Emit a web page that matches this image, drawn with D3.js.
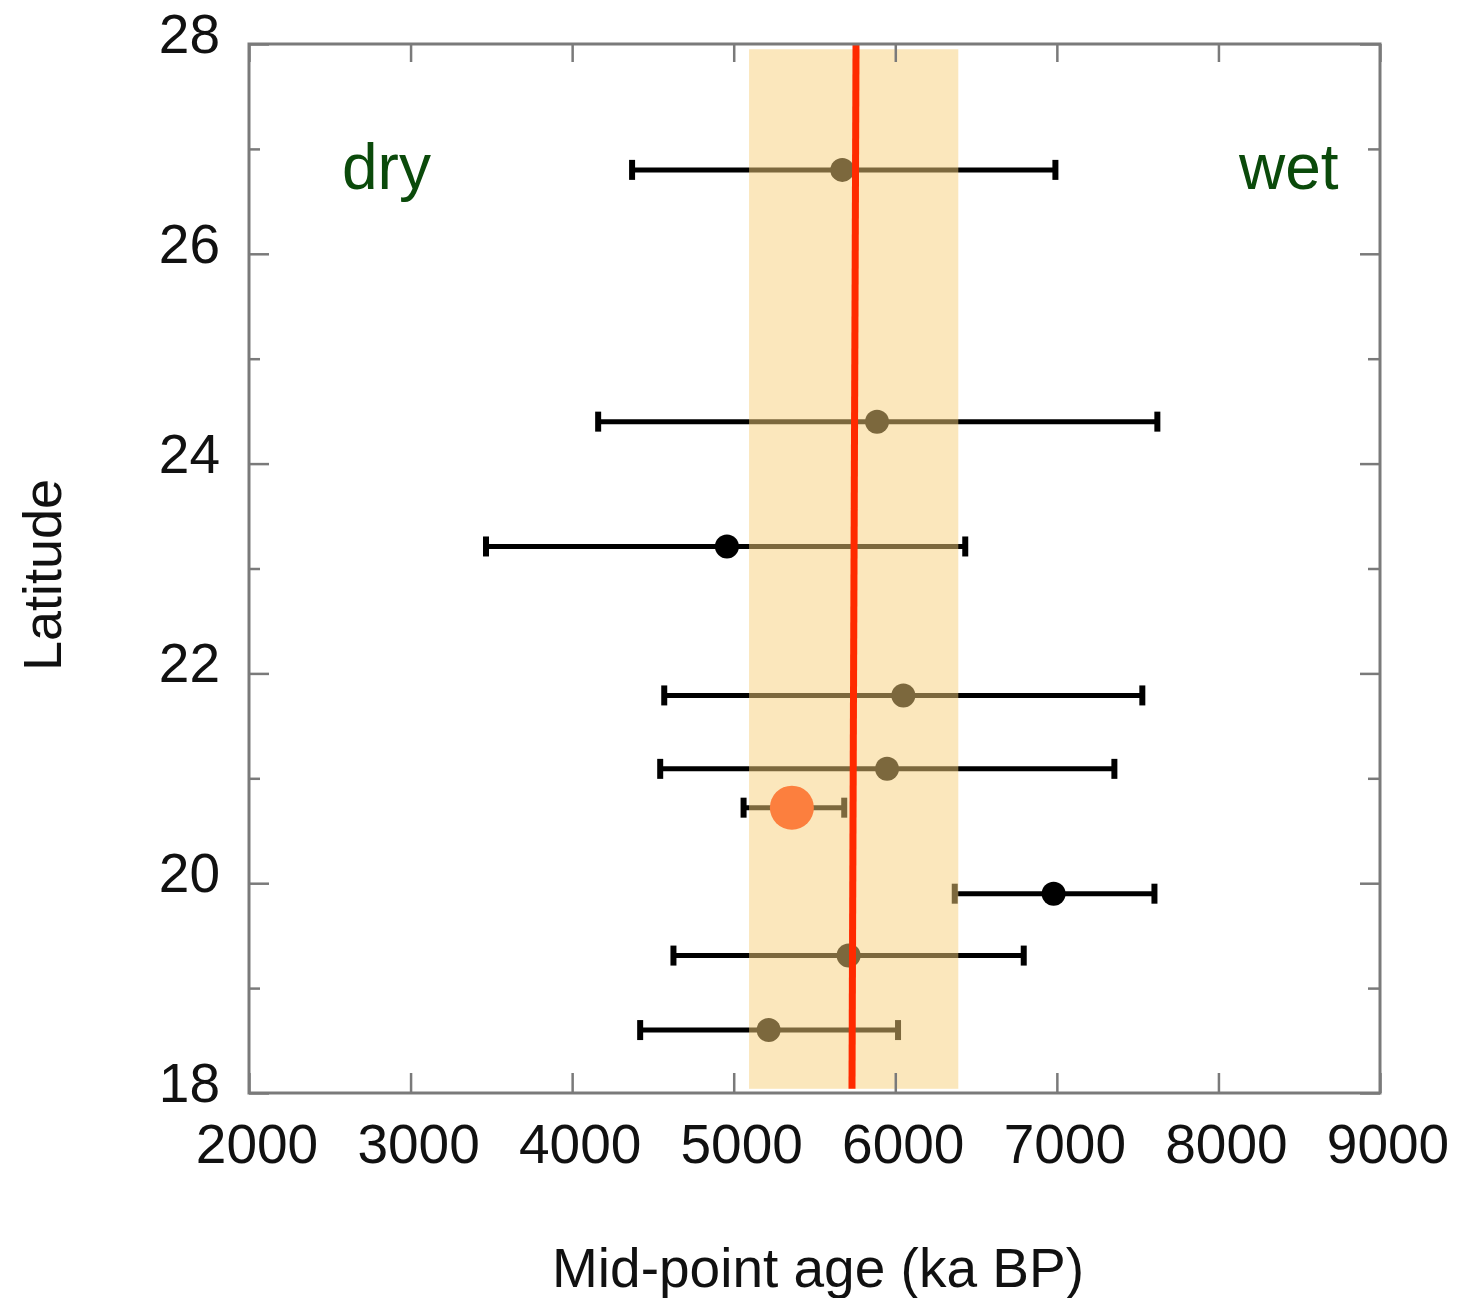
<!DOCTYPE html>
<html>
<head>
<meta charset="utf-8">
<script src="https://cdn.jsdelivr.net/npm/d3@7"></script>
<style>
  html, body { margin: 0; padding: 0; background: #fff; }
  svg { display: block; font-family: "Liberation Sans", Arial, Helvetica, sans-serif; }
</style>
</head>
<body>
<svg id="chart" width="1458" height="1298"></svg>
<script>
// ---- data ----
const latitudes = [26.80, 24.40, 23.21, 21.79, 21.09, 19.90, 19.31, 18.60];
const midAges   = [5672, 5887, 4958, 6050, 5949, 6980, 5711, 5216];
const lowAges   = [4371, 4161, 3467, 4570, 4545, 6368, 4627, 4421];
const highAges  = [6991, 7622, 6433, 7529, 7356, 7604, 6795, 6017];

const highlightLat = [20.72];
const highlightMid = [5360];
const highlightLow = [5061];
const highlightHigh = [5684];

const bandAges = [5095, 6390];
const bandLats = [18.04, 27.95];

const trendAges = [5757, 5732];
const trendLats = [28, 18.04];

const xTicks = [2000, 3000, 4000, 5000, 6000, 7000, 8000, 9000];
const yMajorTicks = [18, 20, 22, 24, 26, 28];
const yMinorTicks = [19, 21, 23, 25, 27];

const textLabels = ["dry", "wet"];
const xTitle = "Mid-point age (ka BP)";
const yTitle = "Latitude";

// ---- layout ----
(function () {
const svg = d3.select("#chart");
const pL = 249, pR = 1380, pT = 44, pB = 1093;
const x = d3.scaleLinear().domain([2000, 9000]).range([pL, pR]);
const y = d3.scaleLinear().domain([18, 28]).range([pB, pT]);

const axisColor = "#7a7a7a";
const textColor = "#111";

const rows = latitudes.map((lat, i) => ({lat, mid: midAges[i], lo: lowAges[i], hi: highAges[i]}));
const hl = highlightLat.map((lat, i) => ({lat, mid: highlightMid[i], lo: highlightLow[i], hi: highlightHigh[i]}));
const allBars = rows.concat(hl);

// error bars (under the band)
const gBars = svg.append("g");
gBars.selectAll("line.bar").data(allBars).join("line")
  .attr("class", "bar")
  .attr("x1", d => x(d.lo)).attr("x2", d => x(d.hi))
  .attr("y1", d => y(d.lat)).attr("y2", d => y(d.lat))
  .attr("stroke", "#000").attr("stroke-width", 5);
gBars.selectAll("line.capL").data(allBars).join("line")
  .attr("class", "capL")
  .attr("x1", d => x(d.lo)).attr("x2", d => x(d.lo))
  .attr("y1", d => y(d.lat) - 10).attr("y2", d => y(d.lat) + 10)
  .attr("stroke", "#000").attr("stroke-width", 6);
gBars.selectAll("line.capR").data(allBars).join("line")
  .attr("class", "capR")
  .attr("x1", d => x(d.hi)).attr("x2", d => x(d.hi))
  .attr("y1", d => y(d.lat) - 10).attr("y2", d => y(d.lat) + 10)
  .attr("stroke", "#000").attr("stroke-width", 6);
gBars.selectAll("circle.pt").data(rows).join("circle")
  .attr("class", "pt")
  .attr("cx", d => x(d.mid)).attr("cy", d => y(d.lat)).attr("r", 12)
  .attr("fill", "#000");

// band (semi-transparent, on top of bars)
svg.append("rect")
  .attr("x", x(bandAges[0])).attr("width", x(bandAges[1]) - x(bandAges[0]))
  .attr("y", y(bandLats[1])).attr("height", y(bandLats[0]) - y(bandLats[1]))
  .attr("fill", "rgb(248,208,122)").attr("fill-opacity", 0.5);

// highlighted point
svg.selectAll("circle.hl").data(hl).join("circle")
  .attr("class", "hl")
  .attr("cx", d => x(d.mid)).attr("cy", d => y(d.lat)).attr("r", 22)
  .attr("fill", "#fc7f3e");

// trend line
svg.append("line")
  .attr("x1", x(trendAges[0])).attr("y1", y(trendLats[0]))
  .attr("x2", x(trendAges[1])).attr("y2", y(trendLats[1]))
  .attr("stroke", "#ff2a00").attr("stroke-width", 7);

// axes frame with inward ticks
const gAx = svg.append("g");
gAx.append("g").attr("transform", `translate(0,${pB})`)
  .call(d3.axisBottom(x).tickValues(xTicks).tickSize(-20).tickFormat(""));
gAx.append("g").attr("transform", `translate(0,${pT})`)
  .call(d3.axisTop(x).tickValues(xTicks).tickSize(-18).tickFormat(""));
gAx.append("g").attr("transform", `translate(${pL},0)`)
  .call(d3.axisLeft(y).tickValues(yMajorTicks).tickSize(-20).tickFormat(""));
gAx.append("g").attr("transform", `translate(${pL},0)`)
  .call(d3.axisLeft(y).tickValues(yMinorTicks).tickSize(-11).tickFormat(""));
gAx.append("g").attr("transform", `translate(${pR},0)`)
  .call(d3.axisRight(y).tickValues(yMajorTicks).tickSize(-20).tickFormat(""));
gAx.append("g").attr("transform", `translate(${pR},0)`)
  .call(d3.axisRight(y).tickValues(yMinorTicks).tickSize(-12).tickFormat(""));
gAx.selectAll("path.domain").remove();
gAx.selectAll(".tick line").attr("stroke", axisColor).attr("stroke-width", 2.5);
gAx.append("rect")
  .attr("x", pL).attr("y", pT).attr("width", pR - pL).attr("height", pB - pT)
  .attr("fill", "none").attr("stroke", axisColor).attr("stroke-width", 3);

// tick labels
svg.append("g").selectAll("text").data(xTicks).join("text")
  .attr("x", d => x(d) + 8).attr("y", 1163)
  .attr("text-anchor", "middle").attr("font-size", 55).attr("fill", textColor)
  .text(d => d);
svg.append("g").selectAll("text").data(yMajorTicks).join("text")
  .attr("x", 220).attr("y", d => y(d) + 9)
  .attr("text-anchor", "end").attr("font-size", 55).attr("fill", textColor)
  .text(d => d);

// annotations
svg.append("text").attr("x", 342).attr("y", 189).attr("font-size", 64)
  .attr("fill", "#0b4a0b").text(textLabels[0]);
svg.append("text").attr("x", 1239).attr("y", 189).attr("font-size", 64)
  .attr("fill", "#0b4a0b").text(textLabels[1]);

// axis titles
svg.append("text").attr("x", 818).attr("y", 1287).attr("text-anchor", "middle")
  .attr("font-size", 55).attr("fill", textColor).text(xTitle);
svg.append("text").attr("transform", "translate(61,575) rotate(-90)")
  .attr("text-anchor", "middle").attr("font-size", 54).attr("fill", textColor).text(yTitle);
})();
</script>
</body>
</html>
